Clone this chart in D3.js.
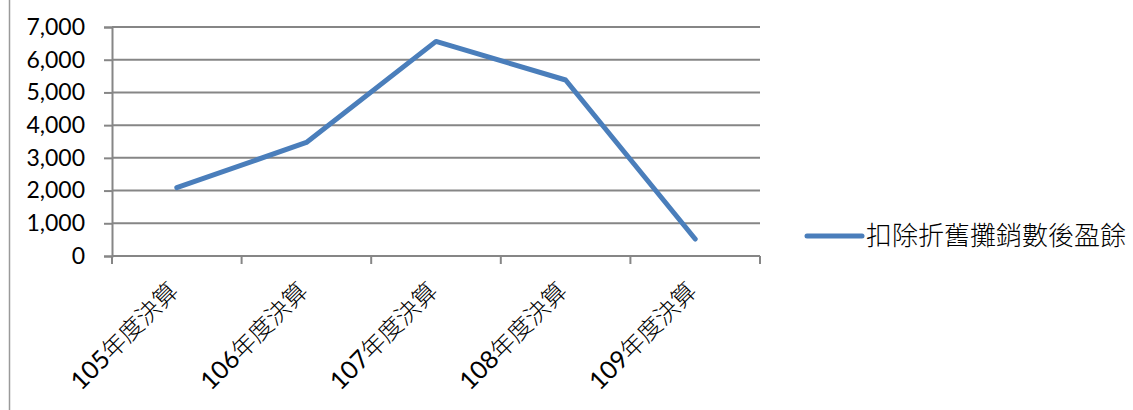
<!DOCTYPE html>
<html>
<head>
<meta charset="utf-8">
<script src="https://cdnjs.cloudflare.com/ajax/libs/d3/7.8.5/d3.min.js"></script>
<style>
  body { margin: 0; background: #fff; }
  text { font-family: Lato, "Noto Sans CJK TC", sans-serif; fill: #000; }
  .cjk { font-family: "Noto Sans CJK TC", sans-serif; font-weight: 300; }
</style>
</head>
<body>
<div id="chart"></div>
<script>
// chart data
var categories = ["105年度決算", "106年度決算", "107年度決算", "108年度決算", "109年度決算"];
var seriesName = "扣除折舊攤銷數後盈餘";
var values = [2090, 3470, 6560, 5380, 520];
var yTicks = [0, 1000, 2000, 3000, 4000, 5000, 6000, 7000];

var width = 1133;
var height = 410;
var margin = { left: 112, top: 27, right: 373, bottom: 154 };
var plotW = width - margin.left - margin.right;
var plotH = height - margin.top - margin.bottom;

var lineColor = "#4a7ebb";
var gridColor = "#868686";

var svg = d3.select("#chart").append("svg")
    .attr("width", width)
    .attr("height", height);

// left border of the chart frame
svg.append("line")
    .attr("x1", 9.5).attr("x2", 9.5)
    .attr("y1", 0).attr("y2", height)
    .attr("stroke", "#9a9a9a")
    .attr("stroke-width", 1.5);

var g = svg.append("g")
    .attr("transform", "translate(" + margin.left + "," + margin.top + ")");

var x = d3.scaleBand()
    .domain(categories)
    .range([0, plotW]);

var y = d3.scaleLinear()
    .domain([0, 7000])
    .range([plotH, 0]);

/*====================================================================
       gridlines + y axis
    ==================================================================*/
var yAxis = d3.axisLeft(y)
    .tickValues(yTicks)
    .tickSize(8)
    .tickPadding(19)
    .tickFormat(d3.format(","));

var yG = g.append("g").call(yAxis);
yG.select(".domain").attr("stroke", gridColor).attr("stroke-width", 2);
yG.selectAll(".tick line").attr("stroke", gridColor).attr("stroke-width", 2);
yG.selectAll(".tick text")
    .style("font-size", "23px")
    .attr("fill", "#000");

g.append("g")
    .selectAll("line")
    .data(yTicks)
    .join("line")
    .attr("x1", 0)
    .attr("x2", plotW)
    .attr("y1", function (d) { return y(d); })
    .attr("y2", function (d) { return y(d); })
    .attr("stroke", gridColor)
    .attr("stroke-width", 2);

/*====================================================================
       x axis
    ==================================================================*/
var tickPos = categories.map(function (c) { return x(c); }).concat([plotW]);

g.append("g")
    .selectAll("line")
    .data(tickPos)
    .join("line")
    .attr("x1", function (d) { return d; })
    .attr("x2", function (d) { return d; })
    .attr("y1", plotH)
    .attr("y2", plotH + 8)
    .attr("stroke", gridColor)
    .attr("stroke-width", 2);

var xLabels = g.append("g")
    .selectAll("text")
    .data(categories)
    .join("text")
    .attr("transform", function (d) {
        return "translate(" + (x(d) + x.bandwidth() / 2 - 9) + "," + (plotH + 25) + ") rotate(-45)";
    })
    .attr("text-anchor", "end")
    .attr("dy", "0.7em")
    .style("font-size", "24px");

// digits in the latin font, the rest in the CJK font
xLabels.append("tspan")
    .style("font-size", "25px")
    .text(function (d) { return d.match(/^\d+/)[0]; });
xLabels.append("tspan")
    .attr("class", "cjk")
    .text(function (d) { return d.replace(/^\d+/, ""); });

/*====================================================================
       series line
    ==================================================================*/
var line = d3.line()
    .x(function (d, i) { return x(categories[i]) + x.bandwidth() / 2; })
    .y(function (d) { return y(d); });

g.append("path")
    .datum(values)
    .attr("d", line)
    .attr("fill", "none")
    .attr("stroke", lineColor)
    .attr("stroke-width", 5)
    .attr("stroke-linecap", "round")
    .attr("stroke-linejoin", "round");

/*====================================================================
       legend
    ==================================================================*/
var legend = svg.append("g")
    .attr("transform", "translate(807,236)");

legend.append("line")
    .attr("x1", 0).attr("x2", 55)
    .attr("y1", 0).attr("y2", 0)
    .attr("stroke", lineColor)
    .attr("stroke-width", 5)
    .attr("stroke-linecap", "round");

legend.append("text")
    .attr("class", "cjk")
    .attr("x", 59)
    .attr("y", 0)
    .attr("dy", "0.36em")
    .style("font-size", "26px")
    .text(seriesName);
</script>
</body>
</html>
